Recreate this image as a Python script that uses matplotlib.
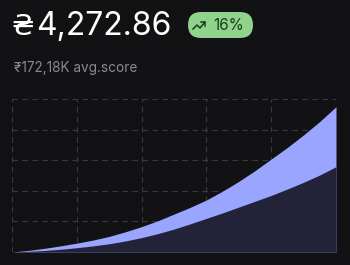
import numpy as np
import matplotlib.pyplot as plt
from matplotlib.patches import FancyBboxPatch
from matplotlib.lines import Line2D
from matplotlib.transforms import IdentityTransform

# values
x = [0, 0.25, 0.5, 0.75, 1, 1.25, 1.5, 1.75, 2, 2.25, 2.5,
     2.75, 3, 3.25, 3.5, 3.75, 4, 4.25, 4.5, 4.75, 5]
upper = [0, 0.05, 0.12, 0.20, 0.29, 0.39, 0.51, 0.66, 0.83, 1.02, 1.24,
         1.46, 1.70, 1.99, 2.31, 2.66, 3.04, 3.42, 3.83, 4.27, 4.75]
lower = [0, 0.02, 0.05, 0.09, 0.14, 0.20, 0.27, 0.36, 0.47, 0.60, 0.75,
         0.92, 1.10, 1.28, 1.47, 1.66, 1.85, 2.06, 2.28, 2.52, 2.79]

currency = '₴'
price = '4,272.86'
change = '16%'
subtitle = '₹172,18K avg.score'

bg = '#121214'
W, H = 350, 265
fig = plt.figure(figsize=(3.5, 2.65), dpi=100, facecolor=bg)
ax = fig.add_axes([0.034, 0.049, 0.926, 0.577], facecolor=bg)

ax.fill_between(x, 0, upper, color='#99a5ff', lw=0)
ax.fill_between(x, 0, lower, color='#222339', lw=0)

ax.set_xlim(0, 5)
ax.set_ylim(0, 5)
ax.set_xticks(np.arange(6))
ax.set_yticks(np.arange(6))
ax.grid(True, color='#3a3a3c', lw=0.8, ls=(0, (5, 4)))
ax.set_axisbelow(True)
ax.tick_params(length=0, labelbottom=False, labelleft=False)
for s in ax.spines.values():
    s.set_visible(False)

# header
fig.text(11 / W, (H - 35) / H, currency, color='white', fontsize=21,
         family='DejaVu Sans', va='baseline', ha='left')
fig.text(36 / W, (H - 35) / H, price, color='white', fontsize=23,
         family=['Inter', 'DejaVu Sans'], va='baseline', ha='left')

# green badge (pixel coordinates)
px = IdentityTransform()
badge = FancyBboxPatch((188, H - 38), 65, 26,
                       boxstyle='round,pad=0,rounding_size=13',
                       fc='#8fd38c', ec='none', transform=px)
fig.patches.append(badge)
icon = Line2D([193, 197, 200, 205], [H - 29, H - 25, H - 28, H - 22],
              color='#1b3d1c', lw=1.1, transform=px)
head = Line2D([201, 205, 205], [H - 22, H - 22, H - 26],
              color='#1b3d1c', lw=1.1, transform=px)
fig.lines.extend([icon, head])
fig.text(229 / W, (H - 25) / H, change, color='#1b3d1c', fontsize=11,
         family=['Inter', 'DejaVu Sans'], va='center', ha='center')

fig.text(14 / W, (H - 68) / H, subtitle, color='#8a8a8e', fontsize=9.8,
         family=['Inter', 'DejaVu Sans'], va='center', ha='left')

fig.savefig('out.png', dpi=100, facecolor=bg)
